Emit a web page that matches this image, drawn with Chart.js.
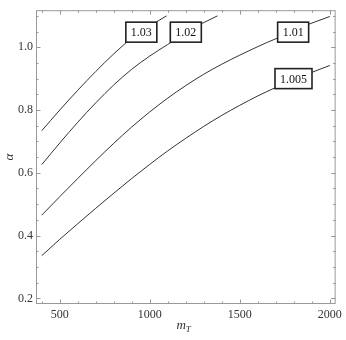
<!DOCTYPE html>
<html><head><meta charset="utf-8">
<script src="https://cdn.jsdelivr.net/npm/chart.js@4"></script>
<style>html,body{margin:0;padding:0;background:#fff}#wrap{width:346px;height:340px}</style>
</head><body><div id="wrap"><canvas id="c" width="346" height="340"></canvas></div>
<script>
const xTicks = [500, 1000, 1500, 2000];
const yTicks = [0.2, 0.4, 0.6, 0.8, 1.0];
const xMinor = [400,500,600,700,800,900,1000,1100,1200,1300,1400,1500,1600,1700,1800,1900,2000];
const yMinor = [0.2,0.25,0.3,0.35,0.4,0.45,0.5,0.55,0.6,0.65,0.7,0.75,0.8,0.85,0.9,0.95,1.0,1.05,1.1];
const levels = ['1.03', '1.02', '1.01', '1.005'];

const mT_103 = [400, 500, 600, 700, 800, 870, null, 1035, 1093];
const al_103 = [0.734, 0.800, 0.863, 0.923, 0.979, 1.015, null, 1.080, 1.100];
const mT_102 = [400, 500, 600, 700, 800, 900, 1000, 1100, 1117, null, 1287, 1376];
const al_102 = [0.626, 0.695, 0.761, 0.823, 0.880, 0.930, 0.972, 1.009, 1.015, null, 1.075, 1.100];
const mT_101 = [400, 500, 600, 700, 800, 900, 1000, 1100, 1200, 1300, 1400, 1500, 1600, 1700, 1710, null, 1882, 1900, 2000];
const al_101 = [0.465, 0.524, 0.582, 0.639, 0.694, 0.746, 0.794, 0.838, 0.878, 0.914, 0.946, 0.975, 1.002, 1.027, 1.029, null, 1.073, 1.077, 1.098];
const mT_1005 = [400, 500, 600, 700, 800, 900, 1000, 1100, 1200, 1300, 1400, 1500, 1600, 1700, null, 1900, 2000];
const al_1005 = [0.336, 0.388, 0.438, 0.487, 0.535, 0.582, 0.627, 0.670, 0.710, 0.748, 0.783, 0.815, 0.845, 0.872, null, 0.920, 0.942];

const labelX = [953, 1200, 1796, 1798];
const labelY = [1.048, 1.048, 1.048, 0.900];

const serif = "'Liberation Serif', 'DejaVu Serif', serif";
function pts(xs, ys){ return xs.map((x,i)=> x===null ? {x:NaN,y:null} : {x:x, y:ys[i]}); }
const series = [[mT_103,al_103],[mT_102,al_102],[mT_101,al_101],[mT_1005,al_1005]];

const decor = {
  id: 'decor',
  afterDraw(chart){
    const ctx = chart.ctx, a = chart.chartArea, xs = chart.scales.x, ys = chart.scales.y;
    ctx.save();
    ctx.strokeStyle = '#999'; ctx.lineWidth = 1;
    ctx.strokeRect(a.left+0.5, a.top+0.5, a.right-a.left-1, a.bottom-a.top-1);
    ctx.beginPath();
    xMinor.forEach(v=>{
      const p = Math.round(xs.getPixelForValue(v))+0.5;
      const L = xTicks.includes(v) ? 4.5 : 2.5;
      ctx.moveTo(p, a.bottom); ctx.lineTo(p, a.bottom-L);
      ctx.moveTo(p, a.top); ctx.lineTo(p, a.top+L);
    });
    yMinor.forEach(v=>{
      const p = Math.round(ys.getPixelForValue(v))+0.5;
      const L = yTicks.some(t=>Math.abs(t-v)<1e-9) ? 4.5 : 2.5;
      ctx.moveTo(a.left, p); ctx.lineTo(a.left+L, p);
      ctx.moveTo(a.right, p); ctx.lineTo(a.right-L, p);
    });
    ctx.stroke();
    ctx.font = '12px ' + serif;
    ctx.textAlign = 'center'; ctx.textBaseline = 'middle';
    levels.forEach((t,i)=>{
      const cx = xs.getPixelForValue(labelX[i]), cy = ys.getPixelForValue(labelY[i]);
      const w = ctx.measureText(t).width + 10, h = 20;
      ctx.fillStyle = '#fff';
      ctx.fillRect(cx-w/2, cy-h/2, w, h);
      ctx.strokeStyle = '#222'; ctx.lineWidth = 1.6;
      ctx.strokeRect(cx-w/2, cy-h/2, w, h);
      ctx.fillStyle = '#111';
      ctx.fillText(t, cx, cy+1);
    });
    ctx.fillStyle = '#333';
    ctx.save();
    ctx.translate(10, (a.top+a.bottom)/2);
    ctx.rotate(-Math.PI/2);
    ctx.font = 'italic 13px ' + serif;
    ctx.fillText('α', 0, 0);
    ctx.restore();
    const mx = (a.left+a.right)/2 - 3, my = 326;
    ctx.font = 'italic 13px ' + serif;
    ctx.textAlign = 'right';
    ctx.fillText('m', mx+3, my);
    ctx.font = 'italic 9px ' + serif;
    ctx.textAlign = 'left';
    ctx.fillText('T', mx+3, my+4);
    ctx.restore();
  }
};

new Chart(document.getElementById('c'), {
  type: 'line',
  data: {
    datasets: series.map((s,i)=>({
      label: levels[i],
      data: pts(s[0], s[1]),
      borderColor: '#333', borderWidth: 1, pointRadius: 0,
      cubicInterpolationMode: 'monotone', spanGaps: false, fill: false
    }))
  },
  options: {
    responsive: false, animation: false, events: [],
    layout: { padding: { top: 2, right: 7, left: 0, bottom: 0 } },
    plugins: { legend: { display: false }, tooltip: { enabled: false } },
    scales: {
      x: {
        type: 'linear', min: 368, max: 2032,
        afterBuildTicks: s => { s.ticks = xTicks.map(v=>({value:v})); },
        afterFit: s => { s.height = 36; },
        grid: { display: false, drawTicks: false }, border: { display: false },
        ticks: { font: { family: serif, size: 12 }, color: '#333', padding: 4, maxRotation: 0, callback: v => String(v) }
      },
      y: {
        type: 'linear', min: 0.182, max: 1.118,
        afterBuildTicks: s => { s.ticks = yTicks.map(v=>({value:v})); },
        afterFit: s => { s.width = 36; },
        grid: { display: false, drawTicks: false }, border: { display: false },
        ticks: { font: { family: serif, size: 12 }, color: '#333', padding: 3, callback: v => Number(v).toFixed(1) }
      }
    }
  },
  plugins: [decor]
});
</script></body></html>
